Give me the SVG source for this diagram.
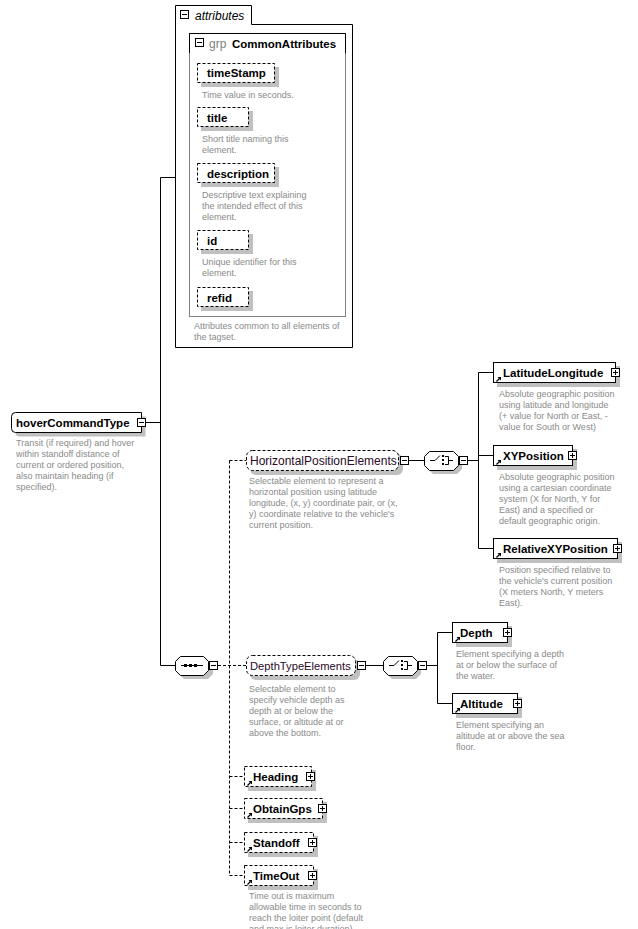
<svg xmlns="http://www.w3.org/2000/svg" width="638" height="929" viewBox="0 0 638 929">
<style>
text{font-family:"Liberation Sans",Arial,sans-serif}
.nm{font-size:11.5px;font-weight:bold;fill:#000}
.gn{font-size:11.5px;fill:#2a0a28}
.ds{font-size:9px;fill:#8a8a8a}
.box{fill:#fff;stroke:#000;stroke-width:1}
.dbox{fill:#fff;stroke:#000;stroke-width:1;stroke-dasharray:3,2}
.sh{fill:#c0c0c0;stroke:none}
.ln{fill:none;stroke:#000;stroke-width:1}
.dln{fill:none;stroke:#000;stroke-width:1;stroke-dasharray:3,2}
.ic{fill:#fff;stroke:#000;stroke-width:1}
</style>
<defs>
<g id="minus"><rect class="ic" x="0.5" y="0.5" width="8" height="8"/><path class="ln" d="M2,4.5H7"/></g>
<g id="plus"><rect class="ic" x="0.5" y="0.5" width="8" height="8"/><path class="ln" d="M2,4.5H7M4.5,2V7"/></g>
<g id="refarrow"><path d="M0.5,5.5L3.5,2.5" stroke="#000" stroke-width="1.2" fill="none"/><polygon points="1.5,1 5,1 5,4.5" fill="#000"/></g>
</defs>

<g id="connectors">
<path class="ln" d="M146,422.5H160.5M160.5,177.5V665.5M160.5,177.5H175.5M160.5,665.5H175.5"/>
<path class="dln" d="M218,665.5H246.5M229.5,460.5V875.5M229.5,460.5H246.5M229.5,776.5H244.5M229.5,808.5H244.5M229.5,842.5H244.5M229.5,875.5H244.5"/>
<path class="ln" d="M408,460.5H424.5M467,460.5H478.5M478.5,372.5V548.5M478.5,372.5H493.5M478.5,455.5H493.5M478.5,548.5H493.5"/>
<path class="ln" d="M365,665.5H383.5M426,665.5H437.5M437.5,632.5V703.5M437.5,632.5H452.5M437.5,703.5H452.5"/>
</g>

<g id="attributes">
<path class="box" d="M175.5,347.5V5.5H251.5V24.5H352.5V347.5Z"/>
<use href="#minus" x="180" y="10"/>
<text x="195" y="20" style="font-size:12px;font-style:italic">attributes</text>
<rect x="189.5" y="33.5" width="156" height="283" fill="#fff" stroke="#808080"/>
<path class="ln" d="M189.5,53V33.5H345.5V53"/>
<use href="#minus" x="195" y="38"/>
<text x="209" y="48" style="font-size:12px;fill:#808080">grp</text>
<text x="232" y="48" class="nm">CommonAttributes</text>
<text x="194" y="329" class="ds">Attributes common to all elements of</text>
<text x="194" y="340" class="ds">the tagset.</text>
</g>

<g id="timeStamp">
<rect class="sh" x="201" y="67" width="78" height="20"/>
<rect class="dbox" x="197.5" y="63.5" width="77" height="19"/>
<text x="207" y="77" class="nm">timeStamp</text>
<text x="202" y="98" class="ds">Time value in seconds.</text>
</g>
<g id="title">
<rect class="sh" x="201" y="111" width="52" height="20"/>
<rect class="dbox" x="197.5" y="107.5" width="51" height="19"/>
<text x="207" y="122" class="nm">title</text>
<text x="202" y="142" class="ds">Short title naming this</text>
<text x="202" y="153" class="ds">element.</text>
</g>
<g id="description">
<rect class="sh" x="201" y="167" width="78" height="20"/>
<rect class="dbox" x="197.5" y="163.5" width="77" height="19"/>
<text x="207" y="178" class="nm">description</text>
<text x="202" y="198" class="ds">Descriptive text explaining</text>
<text x="202" y="209" class="ds">the intended effect of this</text>
<text x="202" y="220" class="ds">element.</text>
</g>
<g id="id">
<rect class="sh" x="201" y="234" width="52" height="20"/>
<rect class="dbox" x="197.5" y="230.5" width="51" height="19"/>
<text x="207" y="245" class="nm">id</text>
<text x="202" y="265" class="ds">Unique identifier for this</text>
<text x="202" y="276" class="ds">element.</text>
</g>
<g id="refid">
<rect class="sh" x="201" y="291" width="52" height="20"/>
<rect class="dbox" x="197.5" y="287.5" width="51" height="19"/>
<text x="207" y="302" class="nm">refid</text>
</g>

<g id="hoverCommandType">
<path class="sh" d="M19.5,416.5H145.5V436.5H19.5Q15.5,436.5 15.5,432.5V420.5Q15.5,416.5 19.5,416.5Z"/>
<path class="box" d="M15.5,412.5H141.5V432.5H15.5Q11.5,432.5 11.5,428.5V416.5Q11.5,412.5 15.5,412.5Z"/>
<text x="16" y="427" class="nm">hoverCommandType</text>
<use href="#minus" x="137" y="418"/>
<text x="16" y="446" class="ds">Transit (if required) and hover</text>
<text x="16" y="457" class="ds">within standoff distance of</text>
<text x="16" y="468" class="ds">current or ordered position,</text>
<text x="16" y="479" class="ds">also maintain heading (if</text>
<text x="16" y="490" class="ds">specified).</text>
</g>

<g id="sequence">
<polygon class="sh" points="184,660 208,660 213,665 213,674 208,679 184,679 179,674 179,665"/>
<polygon class="box" points="180.5,656.5 203.5,656.5 208.5,661.5 208.5,670.5 203.5,675.5 180.5,675.5 175.5,670.5 175.5,661.5"/>
<path class="ln" d="M181,665.5H203"/>
<rect x="184" y="664" width="3" height="3"/><rect x="189" y="664" width="3" height="3"/><rect x="194" y="664" width="3" height="3"/>
<use href="#minus" x="209" y="661"/>
</g>

<g id="HorizontalPositionElements">
<rect class="sh" x="250" y="454" width="153" height="21" rx="6"/>
<rect class="dbox" x="246.5" y="450.5" width="152" height="20" rx="6"/>
<text x="250" y="465" class="gn" style="font-size:12px">HorizontalPositionElements</text>
<use href="#minus" x="400" y="456"/>
<text x="249" y="484" class="ds">Selectable element to represent a</text>
<text x="249" y="495" class="ds">horizontal position using latitude</text>
<text x="249" y="506" class="ds">longitude, (x, y) coordinate pair, or (x,</text>
<text x="249" y="517" class="ds">y) coordinate relative to the vehicle's</text>
<text x="249" y="528" class="ds">current position.</text>
</g>

<g id="choice1">
<polygon class="sh" points="433,455 457,455 462,460 462,469 457,474 433,474 428,469 428,460"/>
<polygon class="box" points="429.5,451.5 453.5,451.5 458.5,456.5 458.5,465.5 453.5,470.5 429.5,470.5 424.5,465.5 424.5,456.5"/>
<path class="ln" d="M430,460.5H435L440,455.5M445,456.5H448.5V464.5H445M448.5,460.5H453"/>
<rect x="442" y="455" width="2" height="2"/><rect x="442" y="459" width="2" height="2"/><rect x="442" y="463" width="2" height="2"/>
<use href="#minus" x="459" y="456"/>
</g>

<g id="LatitudeLongitude">
<rect class="sh" x="497" y="366" width="123" height="21"/>
<rect class="box" x="493.5" y="362.5" width="122" height="20"/>
<use href="#refarrow" x="496" y="376"/>
<text x="503" y="377" class="nm">LatitudeLongitude</text>
<use href="#plus" x="611" y="368"/>
<text x="499" y="397" class="ds">Absolute geographic position</text>
<text x="499" y="408" class="ds">using latitude and longitude</text>
<text x="499" y="419" class="ds">(+ value for North or East, -</text>
<text x="499" y="430" class="ds">value for South or West)</text>
</g>

<g id="XYPosition">
<rect class="sh" x="497" y="449" width="80" height="21"/>
<rect class="box" x="493.5" y="445.5" width="79" height="20"/>
<use href="#refarrow" x="496" y="459"/>
<text x="503" y="460" class="nm">XYPosition</text>
<use href="#plus" x="568" y="451"/>
<text x="499" y="480" class="ds">Absolute geographic position</text>
<text x="499" y="491" class="ds">using a cartesian coordinate</text>
<text x="499" y="502" class="ds">system (X for North, Y for</text>
<text x="499" y="513" class="ds">East) and a specified or</text>
<text x="499" y="524" class="ds">default geographic origin.</text>
</g>

<g id="RelativeXYPosition">
<rect class="sh" x="497" y="542" width="125" height="21"/>
<rect class="box" x="493.5" y="538.5" width="124" height="20"/>
<use href="#refarrow" x="496" y="552"/>
<text x="503" y="553" class="nm">RelativeXYPosition</text>
<use href="#plus" x="613" y="544"/>
<text x="499" y="573" class="ds">Position specified relative to</text>
<text x="499" y="584" class="ds">the vehicle's current position</text>
<text x="499" y="595" class="ds">(X meters North, Y meters</text>
<text x="499" y="606" class="ds">East).</text>
</g>

<g id="DepthTypeElements">
<rect class="sh" x="250" y="659" width="110" height="21" rx="6"/>
<rect class="dbox" x="246.5" y="655.5" width="109" height="20" rx="6"/>
<text x="250" y="670" class="gn" style="font-size:11.2px">DepthTypeElements</text>
<use href="#minus" x="357" y="661"/>
<text x="249" y="692" class="ds">Selectable element to</text>
<text x="249" y="703" class="ds">specify vehicle depth as</text>
<text x="249" y="714" class="ds">depth at or below the</text>
<text x="249" y="725" class="ds">surface, or altitude at or</text>
<text x="249" y="736" class="ds">above the bottom.</text>
</g>

<g id="choice2">
<polygon class="sh" points="392,660 416,660 421,665 421,674 416,679 392,679 387,674 387,665"/>
<polygon class="box" points="388.5,656.5 412.5,656.5 417.5,661.5 417.5,670.5 412.5,675.5 388.5,675.5 383.5,670.5 383.5,661.5"/>
<path class="ln" d="M389,665.5H394L399,660.5M404,661.5H407.5V669.5H404M407.5,665.5H412"/>
<rect x="401" y="660" width="2" height="2"/><rect x="401" y="664" width="2" height="2"/><rect x="401" y="668" width="2" height="2"/>
<use href="#minus" x="418" y="661"/>
</g>

<g id="Depth">
<rect class="sh" x="456" y="626" width="56" height="21"/>
<rect class="box" x="452.5" y="622.5" width="55" height="20"/>
<use href="#refarrow" x="455" y="636"/>
<text x="460" y="637" class="nm">Depth</text>
<use href="#plus" x="503" y="628"/>
<text x="456" y="657" class="ds">Element specifying a depth</text>
<text x="456" y="668" class="ds">at or below the surface of</text>
<text x="456" y="679" class="ds">the water.</text>
</g>

<g id="Altitude">
<rect class="sh" x="456" y="697" width="66" height="21"/>
<rect class="box" x="452.5" y="693.5" width="65" height="20"/>
<use href="#refarrow" x="455" y="707"/>
<text x="460" y="708" class="nm">Altitude</text>
<use href="#plus" x="513" y="699"/>
<text x="456" y="728" class="ds">Element specifying an</text>
<text x="456" y="739" class="ds">altitude at or above the sea</text>
<text x="456" y="750" class="ds">floor.</text>
</g>

<g id="Heading">
<rect class="sh" x="248" y="770" width="68" height="21"/>
<rect class="dbox" x="244.5" y="766.5" width="67" height="20"/>
<use href="#refarrow" x="247" y="780"/>
<text x="253" y="781" class="nm">Heading</text>
<use href="#plus" x="306" y="772"/>
</g>

<g id="ObtainGps">
<rect class="sh" x="248" y="802" width="79" height="21"/>
<rect class="dbox" x="244.5" y="798.5" width="78" height="20"/>
<use href="#refarrow" x="247" y="812"/>
<text x="253" y="813" class="nm">ObtainGps</text>
<use href="#plus" x="318" y="804"/>
</g>

<g id="Standoff">
<rect class="sh" x="248" y="836" width="70" height="21"/>
<rect class="dbox" x="244.5" y="832.5" width="69" height="20"/>
<use href="#refarrow" x="247" y="846"/>
<text x="253" y="847" class="nm">Standoff</text>
<use href="#plus" x="308" y="838"/>
</g>

<g id="TimeOut">
<rect class="sh" x="248" y="869" width="70" height="21"/>
<rect class="dbox" x="244.5" y="865.5" width="69" height="20"/>
<use href="#refarrow" x="247" y="879"/>
<text x="253" y="880" class="nm">TimeOut</text>
<use href="#plus" x="308" y="871"/>
<text x="249" y="899" class="ds">Time out is maximum</text>
<text x="249" y="910" class="ds">allowable time in seconds to</text>
<text x="249" y="921" class="ds">reach the loiter point (default</text>
<text x="249" y="932" class="ds">and max is loiter duration)</text>
</g>
</svg>
